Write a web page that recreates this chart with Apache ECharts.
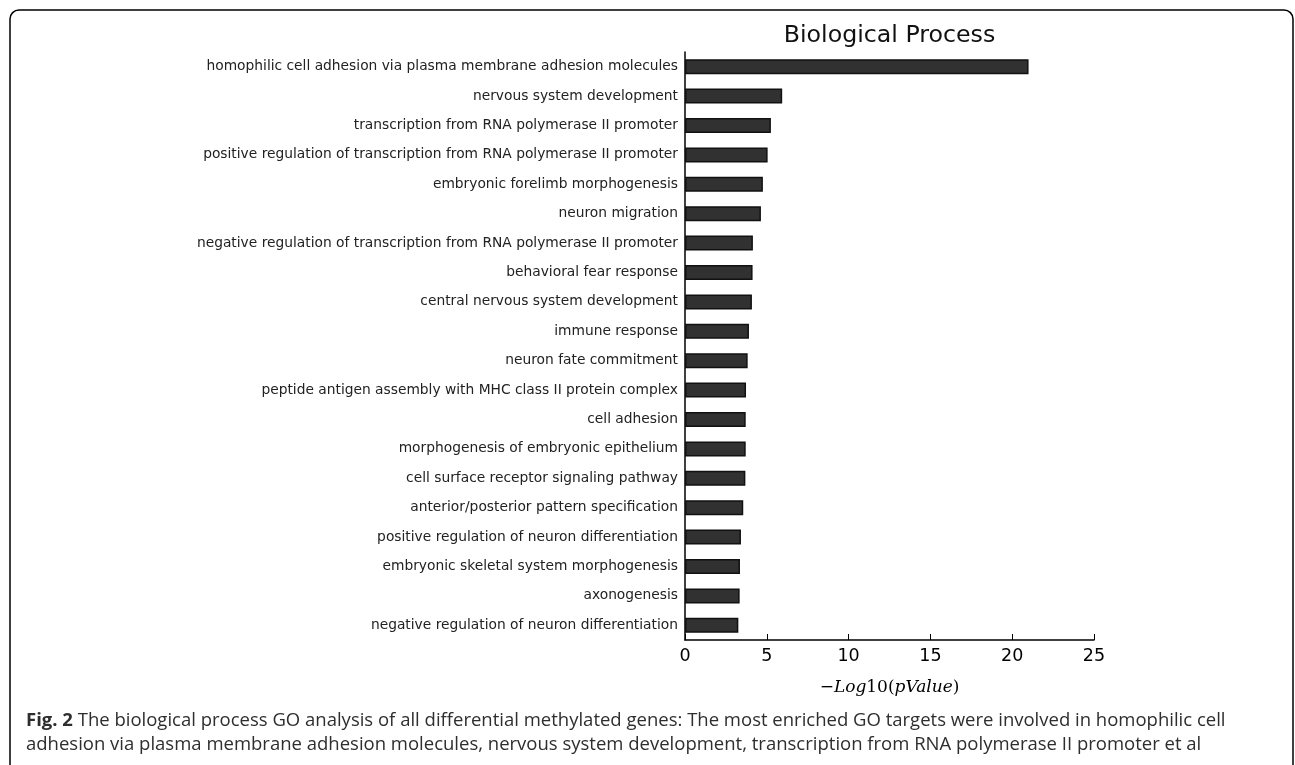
<!DOCTYPE html>
<html>
<head>
<meta charset="utf-8">
<script src="https://cdn.jsdelivr.net/npm/echarts@6/dist/echarts.min.js"></script>
<style>
  html, body { margin: 0; padding: 0; background: #fff; }
  #chart { width: 1295px; height: 765px; }
</style>
</head>
<body>
<div id="chart"></div>
<script>
// GO terms, top to bottom
var terms = [
  'homophilic cell adhesion via plasma membrane adhesion molecules',
  'nervous system development',
  'transcription from RNA polymerase II promoter',
  'positive regulation of transcription from RNA polymerase II promoter',
  'embryonic forelimb morphogenesis',
  'neuron migration',
  'negative regulation of transcription from RNA polymerase II promoter',
  'behavioral fear response',
  'central nervous system development',
  'immune response',
  'neuron fate commitment',
  'peptide antigen assembly with MHC class II protein complex',
  'cell adhesion',
  'morphogenesis of embryonic epithelium',
  'cell surface receptor signaling pathway',
  'anterior/posterior pattern specification',
  'positive regulation of neuron differentiation',
  'embryonic skeletal system morphogenesis',
  'axonogenesis',
  'negative regulation of neuron differentiation'
]
// -log10(p)
var negLogP = [21.0, 5.94, 5.25, 5.05, 4.76, 4.64, 4.15, 4.13, 4.09, 3.91,
               3.83, 3.73, 3.71, 3.71, 3.69, 3.56, 3.42, 3.36, 3.34, 3.26]
var xTicks = [0, 25, 5]  // min, max, step

var chart = echarts.init(document.getElementById('chart'))
chart.setOption({
  animation: false,
  backgroundColor: '#fff',
  grid: { left: 685, right: 201, top: 52, bottom: 125 },
  xAxis: {
    type: 'value',
    min: xTicks[0], max: xTicks[1], interval: xTicks[2],
    axisLine: { show: true, lineStyle: { color: '#000', width: 1.5 } },
    axisTick: { show: true, inside: true, length: 6, lineStyle: { color: '#000' } },
    splitLine: { show: false },
    axisLabel: { fontFamily: 'DejaVu Sans', fontSize: 17.5, color: '#000', margin: 7 },
    name: '{n|\u2212}{i|Log}{n|10(}{i|pValue}{n|)}',
    nameLocation: 'middle',
    nameGap: 39,
    nameTextStyle: {
      rich: {
        n: { fontFamily: 'DejaVu Serif', fontSize: 17, color: '#000' },
        i: { fontFamily: 'DejaVu Serif', fontStyle: 'italic', fontSize: 17, color: '#000' }
      }
    }
  },
  yAxis: {
    type: 'category',
    inverse: true,
    data: terms,
    axisLine: { show: true, lineStyle: { color: '#000', width: 1.5 } },
    axisTick: { show: true, inside: true, alignWithLabel: true, length: 6, lineStyle: { color: '#000' } },
    axisLabel: { fontFamily: 'DejaVu Sans', fontSize: 13.8, color: '#222', margin: 7 },
    splitLine: { show: false }
  },
  series: [{
    type: 'bar',
    data: negLogP,
    barWidth: '51%',
    itemStyle: { color: '#313131', borderColor: '#111', borderWidth: 1.5 }
  }],
  graphic: [
    {
      type: 'rect',
      shape: { x: 10, y: 10, width: 1283, height: 780, r: 9 },
      style: { fill: null, stroke: '#000', lineWidth: 1.5 },
      silent: true
    },
    {
      type: 'text',
      x: 889.5, y: 36,
      style: {
        text: 'Biological Process',
        align: 'center', verticalAlign: 'middle',
        fontFamily: 'DejaVu Sans', fontSize: 23.7, fill: '#111'
      }
    },
    {
      type: 'text',
      x: 26, y: 709,
      style: {
        text: '{b|Fig. 2} The biological process GO analysis of all differential methylated genes: The most enriched GO targets were involved in homophilic cell\n' +
              'adhesion via plasma membrane adhesion molecules, nervous system development, transcription from RNA polymerase II promoter et al',
        fontFamily: 'Open Sans', fontSize: 18.5, lineHeight: 24, fill: '#2e2e2e',
        rich: {
          b: { fontFamily: 'Open Sans', fontSize: 18.5, fontWeight: 'bold', fill: '#2e2e2e' }
        }
      }
    }
  ]
})
</script>
</body>
</html>
